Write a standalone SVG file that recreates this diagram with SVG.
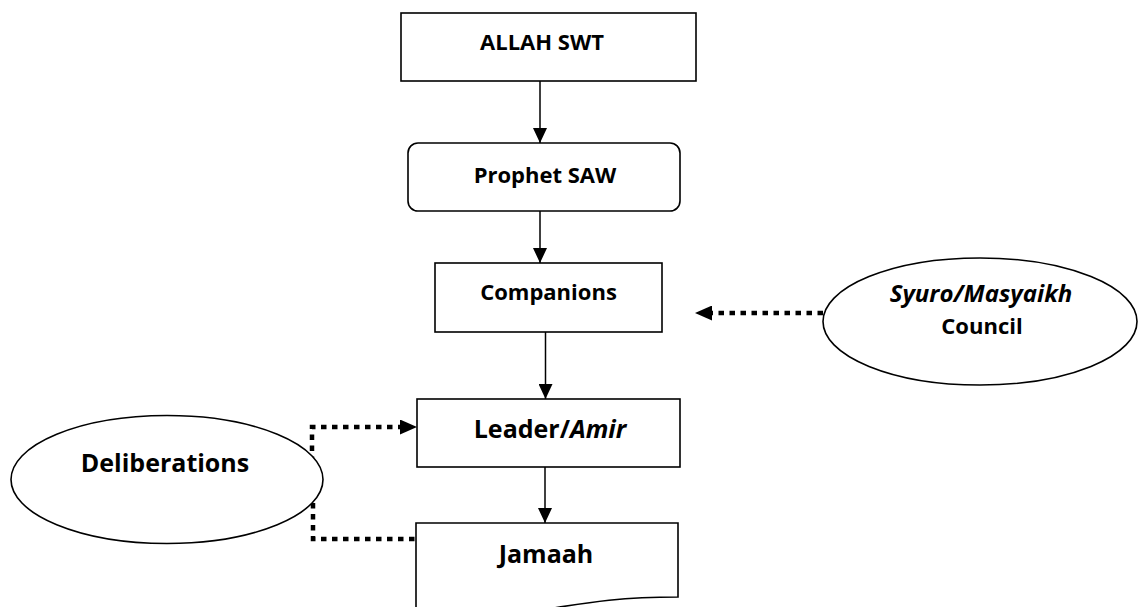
<svg xmlns="http://www.w3.org/2000/svg" width="1138" height="607" viewBox="0 0 1138 607">
<style>
.box{fill:#fff;stroke:#000;stroke-width:1.6}
.t{font-family:"Open Sans","Liberation Sans",sans-serif;font-weight:bold;font-size:22px;fill:#000;text-anchor:middle}
.lg{font-size:25px}
.it{font-style:italic}
.solid{fill:none;stroke:#000;stroke-width:1.5}
.dot{fill:none;stroke:#000;stroke-width:4.5;stroke-dasharray:5.5 5.5}
</style>
<defs>
<marker id="ah" markerUnits="userSpaceOnUse" viewBox="0 0 15 14" refX="15" refY="7" markerWidth="15" markerHeight="14" orient="auto">
<path d="M0,0 L15,7 L0,14 Z" fill="#000"/>
</marker>
<marker id="ahd" markerUnits="userSpaceOnUse" viewBox="0 0 17 15" refX="0" refY="7.5" markerWidth="17" markerHeight="15" orient="auto">
<path d="M0,0 L17,7.5 L0,15 Z" fill="#000"/>
</marker>
</defs>
<rect width="1138" height="607" fill="#fff"/>
<g id="connectors">
<line class="solid" x1="540" y1="81" x2="540" y2="143" marker-end="url(#ah)"/>
<line class="solid" x1="540" y1="211" x2="540" y2="263" marker-end="url(#ah)"/>
<line class="solid" x1="545.5" y1="332" x2="545.5" y2="399" marker-end="url(#ah)"/>
<line class="solid" x1="545" y1="467" x2="545" y2="523" marker-end="url(#ah)"/>
<path class="dot" d="M823,313 H712" marker-end="url(#ahd)"/>
<path class="dot" d="M312,462 V427 H400" marker-end="url(#ahd)"/>
<path class="dot" d="M313,503 V539 H416"/>
</g>
<g id="allah">
<rect class="box" x="401" y="13" width="295" height="68"/>
<text class="t" x="542" y="50">ALLAH SWT</text>
</g>
<g id="prophet">
<rect class="box" x="408" y="143" width="272" height="68" rx="10"/>
<text class="t" x="545" y="183">Prophet SAW</text>
</g>
<g id="companions">
<rect class="box" x="435" y="263" width="227" height="69"/>
<text class="t" x="548.5" y="300">Companions</text>
</g>
<g id="leader">
<rect class="box" x="417" y="399" width="263" height="68"/>
<text class="t lg" x="550" y="438">Leader/<tspan class="it">Amir</tspan></text>
</g>
<g id="jamaah">
<path class="box" d="M416,523 H678 V597 C547,597 547,625.2 416,609.2 Z"/>
<text class="t lg" x="546" y="563">Jamaah</text>
</g>
<g id="syuro">
<ellipse class="box" cx="980" cy="321.5" rx="157" ry="63.5"/>
<text class="t" x="981" y="302" style="font-size:24px"><tspan class="it">Syuro/Masyaikh</tspan></text>
<text class="t" x="982" y="334">Council</text>
</g>
<g id="deliberations">
<ellipse class="box" cx="167" cy="479.5" rx="156" ry="64"/>
<text class="t lg" x="165" y="472">Deliberations</text>
</g>
</svg>
